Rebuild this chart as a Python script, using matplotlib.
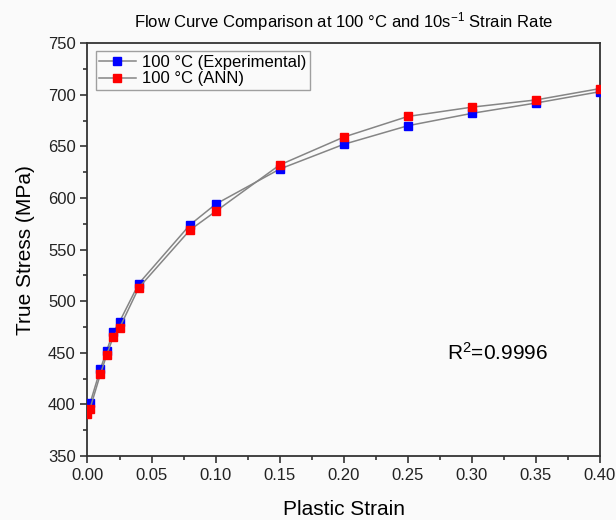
import matplotlib
matplotlib.use("Agg")
import matplotlib.pyplot as plt
from matplotlib.ticker import MultipleLocator

plt.rcParams['font.family'] = ['Liberation Sans', 'DejaVu Sans']
plt.rcParams['mathtext.default'] = 'regular'

# flow curve at 100 °C, strain rate 10 1/s
exp_strain = [0.002, 0.01, 0.015, 0.02, 0.025, 0.04, 0.08, 0.10, 0.15, 0.20, 0.25, 0.30, 0.35, 0.40]
exp_stress = [401, 434, 452, 470, 480, 517, 574, 594, 628, 652, 670, 682, 692, 703]

ann_strain = [0.0, 0.002, 0.01, 0.015, 0.02, 0.025, 0.04, 0.08, 0.10, 0.15, 0.20, 0.25, 0.30, 0.35, 0.40]
ann_stress = [391, 396, 429, 448, 465, 474, 513, 569, 587, 632, 659, 679, 688, 695, 706]

r2_text = "R$^2$=0.9996"


def plot_flow_curve():
    fig = plt.figure(figsize=(6.16, 5.2), dpi=100, facecolor='#fafafa')
    ax = fig.add_axes([0.142, 0.123, 0.832, 0.794])
    ax.set_facecolor('#fafafa')

    ax.plot(exp_strain, exp_stress, color='#858585', lw=1.1, marker='s', ms=6.3,
            mfc='#0000ff', mec='#0000ff', label='100 °C (Experimental)', zorder=3)
    ax.plot(ann_strain, ann_stress, color='#858585', lw=1.1, marker='s', ms=6.3,
            mfc='#ff0000', mec='#ff0000', label='100 °C (ANN)', zorder=4)

    ax.set_xlim(0, 0.4)
    ax.set_ylim(350, 750)
    ax.xaxis.set_major_locator(MultipleLocator(0.05))
    ax.xaxis.set_minor_locator(MultipleLocator(0.025))
    ax.yaxis.set_major_locator(MultipleLocator(50))
    ax.yaxis.set_minor_locator(MultipleLocator(25))
    ax.xaxis.set_major_formatter(lambda v, p: f"{v:.2f}")
    ax.tick_params(which='major', direction='out', length=5, width=1.1,
                   labelsize=12, colors='#222222')
    ax.tick_params(which='minor', direction='out', length=3, width=1.1, color='#222222')
    for s in ax.spines.values():
        s.set_linewidth(1.3)
        s.set_color('#333333')

    ax.set_xlabel('Plastic Strain', fontsize=15, labelpad=12)
    ax.set_ylabel('True Stress (MPa)', fontsize=15, labelpad=9)
    ax.set_title('Flow Curve Comparison at 100 °C and 10s$^{-1}$ Strain Rate',
                 fontsize=12, pad=11)

    ax.text(0.32, 450, r2_text, fontsize=15, ha='center', va='center')

    leg = ax.legend(loc='upper left', fontsize=12, frameon=True, fancybox=False,
                    edgecolor='#888888', borderaxespad=0.5, handlelength=2.2,
                    handletextpad=0.4, borderpad=0.2, labelspacing=0.1)
    leg.get_frame().set_facecolor('#fafafa')
    leg.get_frame().set_linewidth(1.0)

    fig.savefig('out.png', dpi=100, facecolor=fig.get_facecolor())


def main():
    plot_flow_curve()


if __name__ == '__main__':
    main()
